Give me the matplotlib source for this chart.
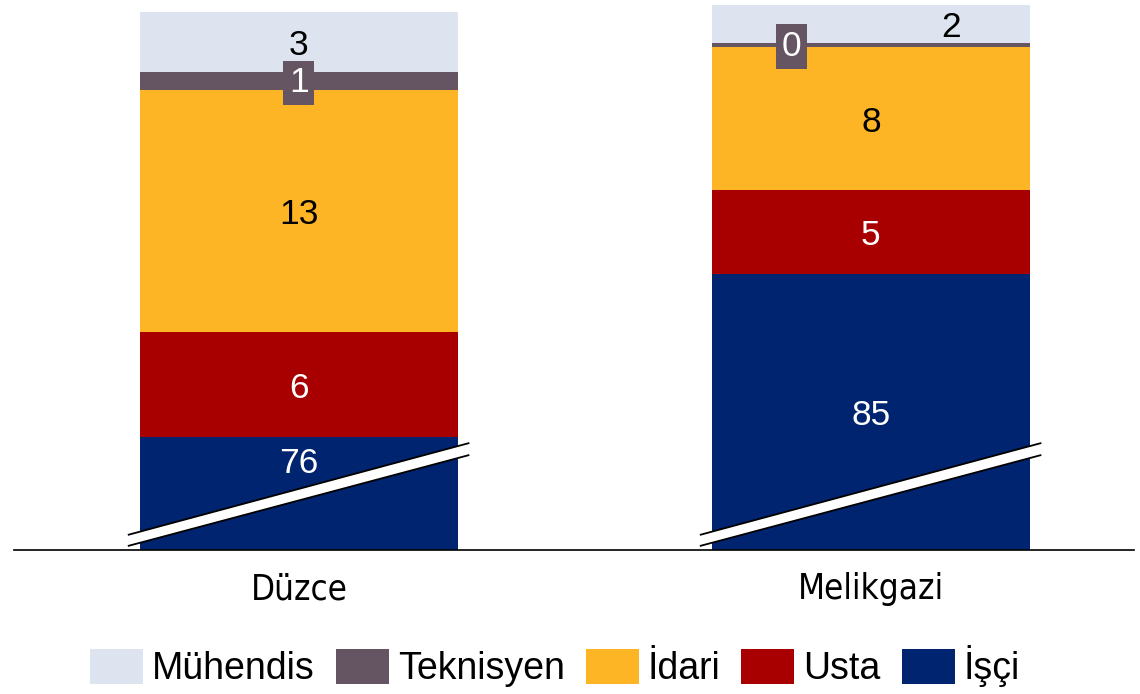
import matplotlib
matplotlib.use("Agg")
import matplotlib.pyplot as plt
import numpy as np
from matplotlib.patches import Patch, Polygon

# ---- data ----
categories = ["Düzce", "Melikgazi"]
series_names = ["Mühendis", "Teknisyen", "İdari", "Usta", "İşçi"]
isci = [76.2, 85.2]
usta = [5.8, 4.6]
idari = [13.3, 7.9]
teknisyen = [1.0, 0.2]
muhendis = [3.3, 2.1]

colors = {
    "Mühendis": "#DEE4EF",
    "Teknisyen": "#655462",
    "İdari": "#FDB525",
    "Usta": "#A80000",
    "İşçi": "#00246F",
}
text_colors = {
    "Mühendis": "black",
    "Teknisyen": "white",
    "İdari": "black",
    "Usta": "white",
    "İşçi": "white",
}

y_floor = 70  # broken axis start
y_top = 100

W, H = 1140, 694
fig = plt.figure(figsize=(W / 100, H / 100), dpi=100)
ax = fig.add_axes([14 / W, (H - 550) / H, 1120 / W, 545 / H])

x = np.arange(len(categories))
bar_w = 0.556

stack_order = [("İşçi", isci), ("Usta", usta), ("İdari", idari),
               ("Teknisyen", teknisyen), ("Mühendis", muhendis)]

bottoms = np.zeros(len(categories))
segments = {}
for name, vals in stack_order:
    vals = np.array(vals)
    ax.bar(x, vals, bar_w, bottom=bottoms, color=colors[name], linewidth=0, zorder=2)
    segments[name] = (bottoms.copy(), vals.copy())
    bottoms = bottoms + vals

ax.set_xlim(-0.498, 1.46)
ax.set_ylim(y_floor, y_top)

# ---- labels ----
num_font = dict(family="Liberation Sans", fontsize=25.5)
x_offsets = {"Mühendis": [0.0, 0.14], "Teknisyen": [0.0, -0.138]}
isci_label_y = [74.93, None]
for name, _ in stack_order:
    b, v = segments[name]
    for i in range(len(categories)):
        lo = max(b[i], y_floor)
        yc = (lo + b[i] + v[i]) / 2
        if name == "İşçi" and isci_label_y[i] is not None:
            yc = isci_label_y[i]
        xc = x[i] + x_offsets.get(name, [0, 0])[i]
        kw = {}
        dy = -2.5
        if name == "Teknisyen":
            kw["bbox"] = dict(boxstyle="square,pad=0.16", facecolor=colors[name],
                              edgecolor="none")
            dy = -1.0
        ax.annotate(f"{v[i]:.0f}", xy=(xc, yc), xytext=(0, dy),
                    textcoords="offset points", ha="center", va="center",
                    color=text_colors[name], zorder=5, annotation_clip=False,
                    **num_font, **kw)

# ---- axis break marks ----
for i in range(len(categories)):
    xl, xr = x[i] - 0.299, x[i] + 0.298
    up = (70.83, 75.89)
    lowl = (70.22, 75.23)
    poly = Polygon([[xl, lowl[0]], [xr, lowl[1]], [xr, up[1]], [xl, up[0]]],
                   closed=True, facecolor="white", edgecolor="none", zorder=3,
                   clip_on=False)
    ax.add_patch(poly)
    ax.plot([xl, xr], [up[0], up[1]], color="black", lw=1.3, zorder=4,
            clip_on=False, solid_capstyle="butt")
    ax.plot([xl, xr], [lowl[0], lowl[1]], color="black", lw=1.3, zorder=4,
            clip_on=False, solid_capstyle="butt")

# ---- axes styling ----
for s in ["top", "left", "right"]:
    ax.spines[s].set_visible(False)
ax.spines["bottom"].set_color("black")
ax.spines["bottom"].set_linewidth(1.2)
ax.spines["bottom"].set_zorder(6)
ax.set_yticks([])
ax.set_xticks(x)
ax.set_xticklabels(categories, fontsize=25, family="DejaVu Sans",
                   fontstretch="condensed")
ax.tick_params(axis="x", length=0, pad=16)

# ---- legend ----
handles = [Patch(facecolor=colors[n], edgecolor="none", label=n) for n in series_names]
fs_leg = 27
em = fs_leg * 100 / 72
fig.legend(handles=handles, loc="center", bbox_to_anchor=(555 / W, 1 - 666 / H),
           ncol=5, frameon=False, prop=dict(family="Liberation Sans", size=fs_leg),
           handlelength=53 / em, handleheight=40 / em, handletextpad=9 / em,
           columnspacing=21 / em, borderpad=0, borderaxespad=0)

fig.savefig("out.png", dpi=100)
